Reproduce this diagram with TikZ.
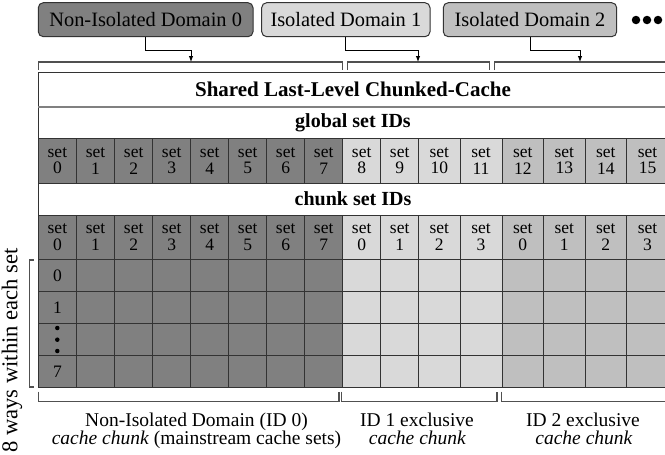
\documentclass[tikz,border=0pt]{standalone}
\usepackage{fontspec}
\setmainfont{Liberation Serif}
\usetikzlibrary{arrows.meta}
\definecolor{cdark}{HTML}{808080}
\definecolor{clight}{HTML}{D9D9D9}
\definecolor{cmid}{HTML}{BFBFBF}
\definecolor{cline}{HTML}{333333}
\definecolor{cbr}{HTML}{505050}
\begin{document}
\begin{tikzpicture}[x=1pt,y=-1pt,
  dombox/.style={draw=cline, line width=1pt, rounded corners=5pt, minimum height=34pt, inner sep=0pt, font=\fontsize{20.4}{22}\selectfont},
  cell/.style={draw=cline, line width=1pt, inner sep=0pt, align=center, font=\fontsize{17.5}{16.7}\selectfont},
  wcell/.style={draw=cline, line width=1pt, inner sep=0pt},
  br/.style={draw=cbr, line width=1.2pt},
  arr/.style={draw=black, line width=0.9pt, -{Latex[length=6pt,width=4.5pt]}},
  hd/.style={font=\fontsize{20}{22}\selectfont\bfseries},
  lbl/.style={anchor=base, inner sep=0pt, font=\fontsize{19.5}{20}\selectfont},
  dotn/.style={circle, fill=black, inner sep=0pt, minimum size=#1},
]
\useasboundingbox (0,0) rectangle (665,455);

% domain boxes
\node[dombox, fill=cdark, minimum width=214.7pt] (d0) at (145.65,19.7) {Non-Isolated Domain 0};
\node[dombox, fill=clight, minimum width=168.3pt] (d1) at (345.85,19.7) {Isolated Domain 1};
\node[dombox, fill=cmid, minimum width=173.4pt] (d2) at (530,19.7) {Isolated Domain 2};
\node[dotn=8.5pt] (e1) at (636,20) {};
\node[dotn=8.5pt] (e2) at (647,20) {};
\node[dotn=8.5pt] (e3) at (658,20) {};

% top brackets
\draw[br] (38.3,70) -- (38.3,62) -- (342.5,62) -- (342.5,70);
\draw[br] (347.3,70) -- (347.3,62) -- (489.3,62) -- (489.3,70);
\draw[br] (494.3,70) -- (494.3,62) -- (670,62);
\coordinate (t0) at (191,62);
\coordinate (t1) at (418,62);
\coordinate (t2) at (580,62);
\draw[arr] (d0.south) -- ++(0,13.3) -| (t0);
\draw[arr] (d1.south) -- ++(0,13.3) -| (t1);
\draw[arr] (d2.south) -- ++(0,13.3) -| (t2);

% white header rows
\draw[draw=cline, line width=1.2pt] (670,72.7) -- (38.3,72.7) -- (38.3,138.3);
\draw[draw=cline, line width=1.2pt] (38.3,183.3) -- (38.3,215);
\draw[draw=cdark, line width=2.4pt] (38.3,106.7) -- (670,106.7);
\node[hd, font=\fontsize{21}{22}\selectfont\bfseries] (hdr) at (353,89.7) {Shared Last-Level Chunked-Cache};
\node[hd] (gl) at (353,122.5) {global set IDs};
\node[hd] (ch) at (353,199.15) {chunk set IDs};

% cells
\foreach \i/\a/\b/\c/\k in {0/38.3/76.5/cdark/0, 1/76.5/114.7/cdark/1, 2/114.7/152.7/cdark/2, 3/152.7/190.7/cdark/3,
  4/190.7/228.7/cdark/4, 5/228.7/266.7/cdark/5, 6/266.7/304.7/cdark/6, 7/304.7/342.7/cdark/7,
  8/342.7/380.7/clight/0, 9/380.7/418.7/clight/1, 10/418.7/460/clight/2, 11/460/502/clight/3,
  12/502/543.5/cmid/0, 13/543.5/585/cmid/1, 14/585/626.7/cmid/2, 15/626.7/668.3/cmid/3}{
  \node[cell, fill=\c, minimum width={\b-\a}, minimum height=45pt] (g\i) at ({(\a+\b)/2},160.8) {set\\\i};
  \node[cell, fill=\c, minimum width={\b-\a}, minimum height=44.5pt] (k\i) at ({(\a+\b)/2},237.25) {set\\\k};
  \foreach \r/\y in {0/275.55, 1/307.65, 2/339.75, 3/371.9}{
    \node[wcell, fill=\c, minimum width={\b-\a}, minimum height=32.1pt] (w\r-\i) at ({(\a+\b)/2},\y) {};
  }
}
% way labels
\node[font=\fontsize{17.5}{18}\selectfont] (wl0) at (w0-0.center) {0};
\node[font=\fontsize{17.5}{18}\selectfont] (wl1) at (w1-0.center) {1};
\node[font=\fontsize{17.5}{18}\selectfont] (wl3) at (w3-0.center) {7};
\node[dotn=4.5pt] (v1) at (57.3,328) {};
\node[dotn=4.5pt] (v2) at (57.3,339.7) {};
\node[dotn=4.5pt] (v3) at (57.3,351) {};

% left bracket and label
\draw[br] (33.8,260) -- (29.3,260) -- (29.3,387) -- (33.8,387);
\node[rotate=90, font=\fontsize{22.6}{24}\selectfont] (ways) at (12,350.5) {8 ways within each set};

% bottom brackets
\draw[br] (38.3,391.7) -- (38.3,401.7) -- (339,401.7) -- (339,391.7);
\draw[br] (341.7,391.7) -- (341.7,401.7) -- (497,401.7) -- (497,391.7);
\draw[br] (501.7,391.7) -- (501.7,401.7) -- (670,401.7);

% bottom labels
\node[lbl] (l0a) at (196.5,426.7) {Non-Isolated Domain (ID 0)};
\node[lbl] (l0b) at (196.5,444.5) {\textit{cache chunk} (mainstream cache sets)};
\node[lbl] (l1a) at (417,426.7) {ID 1 exclusive};
\node[lbl] (l1b) at (417.5,444.5) {\textit{cache chunk}};
\node[lbl] (l2a) at (583,426.7) {ID 2 exclusive};
\node[lbl] (l2b) at (584,444.5) {\textit{cache chunk}};
\end{tikzpicture}
\end{document}
